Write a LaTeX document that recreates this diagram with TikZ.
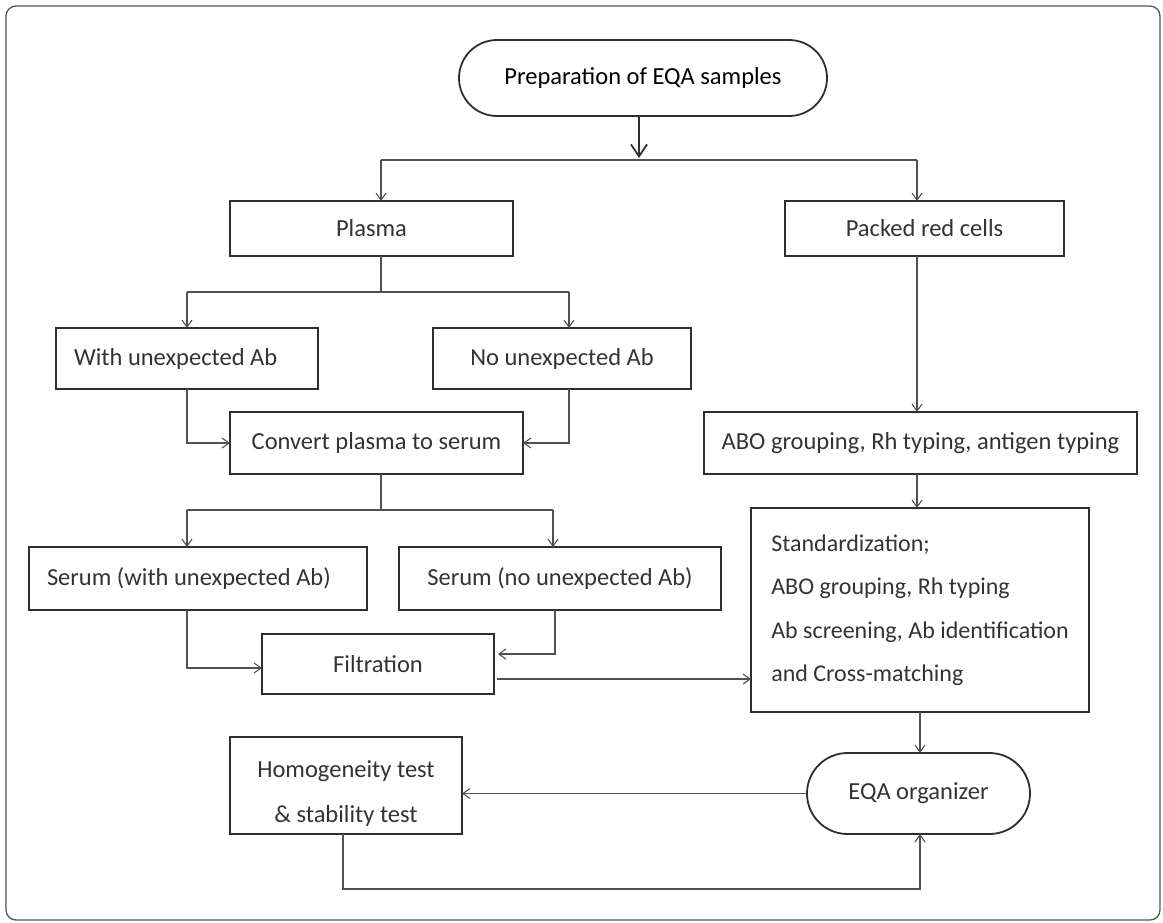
\documentclass[tikz,border=0pt]{standalone}
\usepackage{fontspec}
\setmainfont{Carlito}
\usetikzlibrary{arrows.meta,shapes.misc,calc}
\definecolor{boxc}{HTML}{2E2E2E}
\definecolor{linec}{HTML}{505050}
\definecolor{txtc}{HTML}{333333}
\definecolor{framec}{HTML}{555555}
\begin{document}
\begin{tikzpicture}[x=1pt,y=-1pt,
  box/.style={draw=boxc, line width=1.8pt, rectangle, inner sep=0pt, outer sep=0pt, text=txtc, font=\fontsize{24.5}{30}\selectfont},
  pill/.style={box, rounded rectangle, rounded rectangle arc length=180},
  conn/.style={draw=linec, line width=1.3pt},
  arr/.style={conn, -{Straight Barb[length=7pt,width=10pt,line width=1.1pt]}},
  bigarr/.style={draw=boxc, line width=1.8pt, -{Straight Barb[length=12pt,width=16pt,line width=1.8pt]}},
]
\useasboundingbox (0,0) rectangle (1163,922);
\draw[draw=framec, line width=1.3pt, rounded corners=10pt] (6,6) rectangle (1160,920);

% nodes
\node[pill, minimum width=368pt, minimum height=76pt, text=black] (prep) at (643,78) {Preparation of EQA samples};
\node[box, minimum width=283pt, minimum height=55pt] (plasma) at (371.5,228.5) {Plasma};
\node[box, minimum width=279pt, minimum height=55pt] (packed) at (924.5,228.5) {Packed red cells};
\node[box, minimum width=262pt, minimum height=61pt] (with) at (187,358.5) {\makebox[226pt][l]{With unexpected Ab}};
\node[box, minimum width=258pt, minimum height=61pt] (no) at (562,358.5) {No unexpected Ab};
\node[box, minimum width=293pt, minimum height=62pt] (convert) at (376.5,443) {Convert plasma to serum};
\node[box, minimum width=433pt, minimum height=62pt] (abo) at (920.5,443) {ABO grouping, Rh typing, antigen typing};
\node[box, minimum width=338pt, minimum height=63pt] (serw) at (198,578.5) {\makebox[302pt][l]{Serum (with unexpected Ab)}};
\node[box, minimum width=322pt, minimum height=63pt] (sern) at (560,578.5) {Serum (no unexpected Ab)};
\node[box, minimum width=232pt, minimum height=60pt] (filt) at (378,664) {Filtration};
\node[box, minimum width=232pt, minimum height=97pt, align=center, font=\fontsize{24.5}{45}\selectfont] (homo) at (346,785.5) {\rule{0pt}{32pt}Homogeneity test\\\& stability test};
\node[box, minimum width=338pt, minimum height=204pt, align=left, font=\fontsize{24}{43.5}\selectfont] (std) at (920,610) {Standardization;\\ABO grouping, Rh typing\\Ab screening, Ab identification\\and Cross-matching};
\node[pill, minimum width=223pt, minimum height=81pt] (eqa) at (918.5,793.5) {EQA organizer};

% junction coordinates
\coordinate (j0) at (639,158);
\coordinate (jL) at (381,160);
\coordinate (jR) at (917,160);
\coordinate (p1) at (381,292);
\coordinate (wl) at (187,292);
\coordinate (nl) at (569,292);
\coordinate (c1) at (381,510);
\coordinate (sl) at (187,510);
\coordinate (sr) at (553,510);
\coordinate (fw) at (187,668);
\coordinate (fn) at (555,654);
\coordinate (fo) at (497,679);
\coordinate (hb) at (343,889);
\coordinate (eb) at (920,889);

% connectors
\draw[bigarr] (prep.south -| j0) -- (j0);
\draw[conn] (jL) -- (jR);
\draw[arr] (jL) -- (jL |- plasma.north);
\draw[arr] (jR) -- (jR |- packed.north);

\draw[conn] (plasma.south -| p1) -- (p1);
\draw[conn] (wl) -- (nl);
\draw[arr] (wl) -- (wl |- with.north);
\draw[arr] (nl) -- (nl |- no.north);

\draw[arr] (with.south -| wl) |- (convert.west);
\draw[arr] (no.south -| nl) |- (convert.east);

\draw[conn] (convert.south -| c1) -- (c1);
\draw[conn] (sl) -- (sr);
\draw[arr] (sl) -- (sl |- serw.north);
\draw[arr] (sr) -- (sr |- sern.north);

\draw[arr] (serw.south -| fw) -- (fw) -- (fw -| filt.west);
\draw[arr] (sern.south -| fn) -- (fn) -- ($(fn -| filt.east)+(4,0)$);
\draw[arr] (fo) -- (fo -| std.west);

\draw[arr] (packed.south -| jR) -- (jR |- abo.north);
\draw[arr] (abo.south -| jR) -- (jR |- std.north);
\draw[arr] (std.south -| eb) -- (eb |- eqa.north);

\draw[arr] (eqa.west) -- (eqa.west -| homo.east);
\draw[arr] (homo.south -| hb) -- (hb) -- (eb) -- (eb |- eqa.south);
\end{tikzpicture}
\end{document}
